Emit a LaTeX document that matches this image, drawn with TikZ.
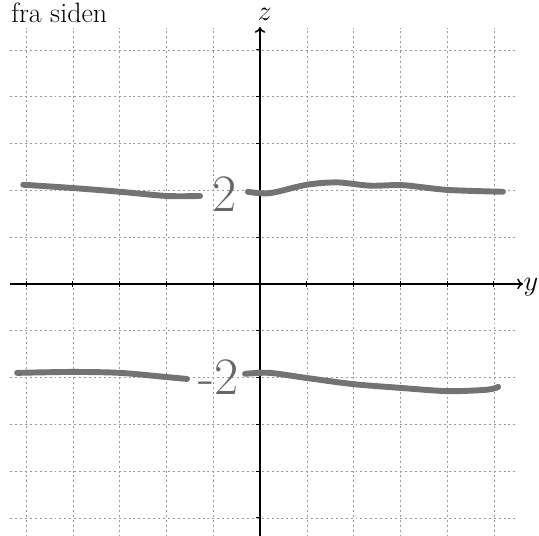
\documentclass[tikz,border=0pt]{standalone}
\usepackage{tikz}
\usetikzlibrary{arrows.meta,positioning}

\begin{document}
\begin{tikzpicture}[
    gridline/.style={black!40, dash pattern=on 1.2pt off 1.8pt, line width=0.35pt},
    axis/.style={-{To[length=3.5pt,width=6.5pt]}, line width=0.9pt},
    tick/.style={line width=0.6pt},
    sketch/.style={black!55, line width=3.6pt, line cap=round, line join=round},
    handlabel/.style={black!60, font=\fontsize{32}{32}\selectfont, inner sep=0pt},
    axislabel/.style={font=\fontsize{16}{19}\selectfont, inner sep=0pt}
]

\useasboundingbox (-5.556,-5.385) rectangle (5.962,6.068);

% grid
\foreach \k in {-5,...,5} {
  \draw[gridline] (\k,-5.4) -- (\k,5.47);
  \draw[gridline] (-5.34,\k) -- (5.45,\k);
}

% axes
\coordinate (yfrom) at (-5.35,0);
\coordinate (yto) at (5.62,0);
\coordinate (zfrom) at (0,-5.4);
\coordinate (zto) at (0,5.49);
\draw[axis] (yfrom) -- (yto);
\draw[axis] (zfrom) -- (zto);
\foreach \k in {-5,...,-1,1,2,...,5} {
  \draw[tick] (\k,-0.06) -- (\k,0.06);
  \draw[tick] (-0.09,\k) -- (0,\k);
}

\node[axislabel] (ylabel) at (5.79,-0.06) {$y$};
\node[axislabel] (zlabel) at (0.1,5.76) {$z$};
\node[axislabel, font=\fontsize{17}{20}\selectfont, anchor=base west] (title) at (-5.32,5.58) {fra siden};

% hand drawn level lines
\draw[sketch] plot[smooth, tension=0.5] coordinates {(-5.06,2.12) (-4.0,2.05) (-2.99,1.97) (-1.99,1.88) (-1.28,1.88)};
\draw[sketch] plot[smooth, tension=0.5] coordinates {(-0.26,1.97) (0.21,1.94) (1.0,2.12) (1.65,2.17) (2.35,2.10) (3.06,2.11) (4.0,2.01) (5.19,1.97)};
\draw[sketch] plot[smooth, tension=0.5] coordinates {(-5.19,-1.90) (-4.02,-1.88) (-2.99,-1.90) (-1.99,-1.99) (-1.56,-2.03)};
\draw[sketch] plot[smooth, tension=0.5] coordinates {(-0.32,-1.92) (0.21,-1.90) (1.0,-2.01) (1.99,-2.14) (2.99,-2.22) (4.0,-2.29) (4.85,-2.26) (5.09,-2.20)};

\node[handlabel] (upper) at (-0.75,1.92) {2};
\node[handlabel] (lower) at (-0.88,-1.98) {-2};

\end{tikzpicture}
\end{document}
